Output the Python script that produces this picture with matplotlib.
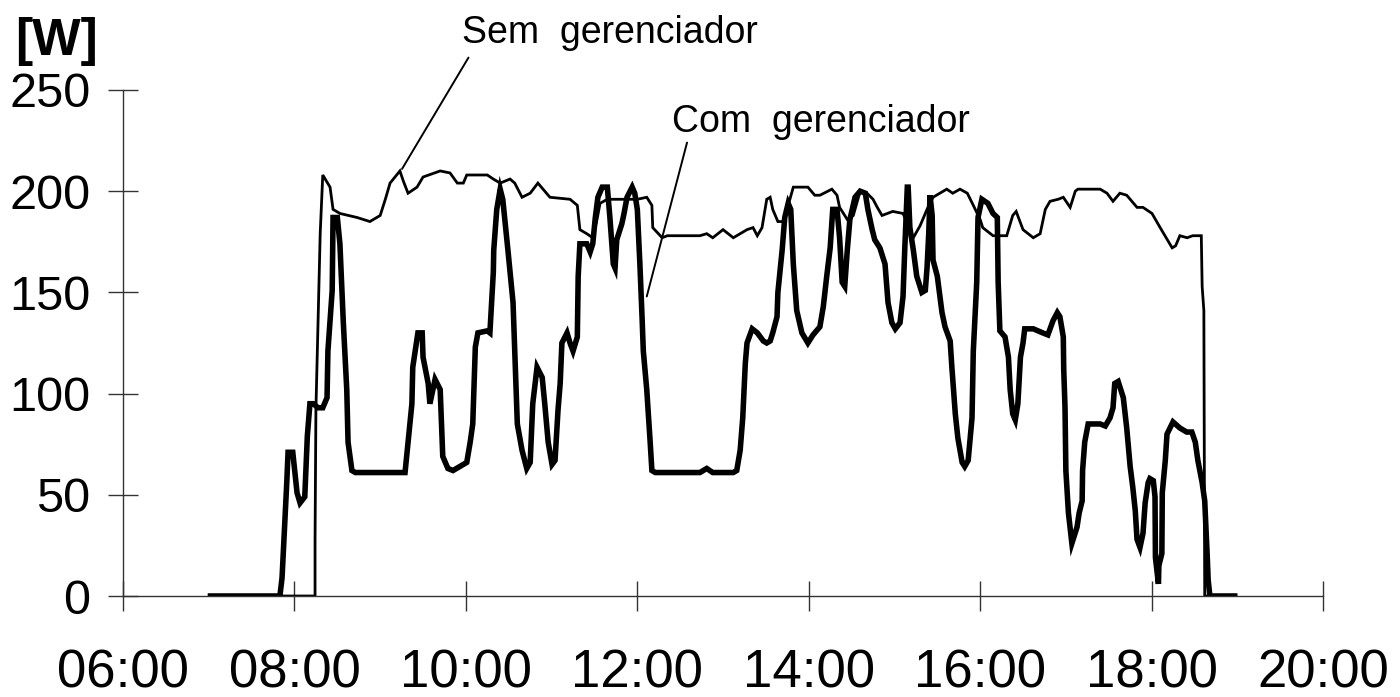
import matplotlib
matplotlib.use("Agg")
import matplotlib.pyplot as plt

plt.rcParams['font.family'] = ['Liberation Sans', 'DejaVu Sans']

# hora do dia (h decimal) e potência [W]
t_sem = [7.02, 8.24, 8.24, 8.25, 8.30, 8.33, 8.415, 8.45, 8.53, 8.73, 8.88, 9.00,
         9.06, 9.115, 9.23, 9.27, 9.325, 9.43, 9.50, 9.70, 9.815, 9.90, 9.97, 10.01,
         10.25, 10.32, 10.40, 10.515, 10.57, 10.655, 10.75, 10.84, 10.98, 11.215,
         11.30, 11.33, 11.41, 11.48, 11.53, 11.565, 11.65, 12.00, 12.11, 12.17,
         12.18, 12.29, 12.35, 12.73, 12.81, 12.88, 13.00, 13.12, 13.28, 13.35,
         13.40, 13.455, 13.51, 13.55, 13.58, 13.64, 13.70, 13.78, 13.82, 13.99,
         14.07, 14.13, 14.27, 14.33, 14.36, 14.45, 14.52, 14.60, 14.68, 14.75,
         14.80, 14.855, 14.98, 15.10, 15.22, 15.30, 15.38, 15.45, 15.61, 15.68,
         15.765, 15.85, 15.92, 16.00, 16.03, 16.15, 16.31, 16.38, 16.42, 16.50,
         16.62, 16.70, 16.76, 16.815, 16.91, 16.97, 17.05, 17.11, 17.14, 17.40,
         17.48, 17.55, 17.63, 17.71, 17.83, 17.90, 18.005, 18.10, 18.24, 18.28,
         18.33, 18.415, 18.48, 18.58, 18.59, 18.61, 18.62, 18.97]
p_sem = [0, 0, 28, 92, 179, 208, 202, 191, 189, 187, 185, 188,
         196, 204, 210, 205, 199, 202, 207, 210, 209, 204, 204, 208,
         208, 206, 204, 206, 204, 197, 199, 204, 197, 196,
         193, 181, 179, 177, 186, 194, 196, 196, 197, 193,
         182, 177, 178, 178, 179, 177, 181, 177, 181, 182,
         178, 182, 196, 197, 191, 185, 185, 196, 202, 202,
         198, 198, 201, 198, 192, 186, 188, 200, 199, 196,
         192, 188, 190, 189, 177, 183, 191, 197, 201, 199,
         201, 199, 193, 186, 182, 178, 178, 188, 190, 181,
         177, 179, 191, 195, 196, 197, 192, 200, 201, 201,
         199, 195, 199, 198, 192, 192, 189, 182, 172, 173,
         178, 177, 178, 178, 153, 141, 0, 0]

t_com = [7.02, 7.83, 7.855, 7.91, 7.925, 7.98, 8.03, 8.065, 8.12, 8.15, 8.18, 8.22,
         8.275, 8.33, 8.38, 8.39, 8.44, 8.45, 8.50, 8.53, 8.57, 8.61, 8.625, 8.67,
         8.71, 9.29, 9.325, 9.37, 9.38, 9.44, 9.49, 9.50, 9.56, 9.58, 9.64, 9.70,
         9.73, 9.79, 9.85, 10.01, 10.05, 10.08, 10.11, 10.14, 10.25, 10.28, 10.32,
         10.325, 10.36, 10.40, 10.43, 10.49, 10.55, 10.60, 10.655, 10.71, 10.75,
         10.78, 10.83, 10.89, 10.92, 10.96, 11.005, 11.04, 11.075, 11.10, 11.12,
         11.18, 11.215, 11.25, 11.30, 11.31, 11.33, 11.41, 11.45, 11.48, 11.51,
         11.54, 11.59, 11.65, 11.68, 11.72, 11.74, 11.76, 11.82, 11.845, 11.88,
         11.94, 11.97, 12.00, 12.03, 12.055, 12.07, 12.11, 12.15, 12.17, 12.21,
         12.73, 12.81, 12.88, 13.12, 13.16, 13.20, 13.23, 13.26, 13.28, 13.34,
         13.40, 13.47, 13.51, 13.55, 13.58, 13.63, 13.64, 13.69, 13.72, 13.76,
         13.79, 13.82, 13.86, 13.92, 13.99, 14.05, 14.13, 14.17, 14.21, 14.25,
         14.28, 14.33, 14.36, 14.39, 14.42, 14.45, 14.48, 14.54, 14.60, 14.66,
         14.69, 14.74, 14.77, 14.83, 14.89, 14.925, 14.97, 15.01, 15.065, 15.10,
         15.12, 15.15, 15.16, 15.18, 15.22, 15.26, 15.32, 15.36, 15.38, 15.40,
         15.415, 15.44, 15.45, 15.50, 15.555, 15.59, 15.65, 15.67, 15.71, 15.74,
         15.79, 15.82, 15.86, 15.905, 15.92, 15.96, 15.975, 16.02, 16.09, 16.15,
         16.20, 16.21, 16.23, 16.29, 16.33, 16.35, 16.38, 16.41, 16.44, 16.47,
         16.50, 16.52, 16.62, 16.73, 16.79, 16.85, 16.90, 16.93, 16.97, 16.975,
         16.99, 17.00, 17.03, 17.07, 17.13, 17.155, 17.19, 17.195, 17.22, 17.26,
         17.40, 17.46, 17.515, 17.55, 17.57, 17.61, 17.67, 17.71, 17.75, 17.78,
         17.81, 17.83, 17.865, 17.90, 17.925, 17.96, 17.98, 18.02, 18.04, 18.045,
         18.08, 18.085, 18.12, 18.125, 18.16, 18.18, 18.25, 18.33, 18.41, 18.47,
         18.51, 18.54, 18.59, 18.62, 18.65, 18.66, 18.68, 18.97]
p_com = [0, 0, 9, 56, 71, 71, 51, 46, 49, 79, 95, 95,
         93, 93, 98, 121, 151, 187, 187, 174, 135, 102, 76, 62,
         61, 61, 76, 95, 113, 130, 130, 118, 105, 95, 107, 102,
         69, 63, 62, 66, 76, 85, 123, 130, 131, 130, 160,
         171, 191, 201, 196, 171, 145, 85, 72, 63, 66,
         95, 113, 108, 95, 76, 65, 67, 92, 105, 125,
         130, 125, 121, 128, 158, 174, 174, 170, 174, 187,
         197, 202, 202, 187, 164, 162, 176, 184, 189, 197,
         202, 199, 191, 164, 138, 121, 102, 76, 62, 61,
         61, 63, 61, 61, 62, 72, 88, 115, 125, 132,
         130, 126, 125, 126, 130, 138, 150, 171, 187, 194,
         191, 164, 141, 130, 125, 129, 133, 143, 158, 172,
         191, 191, 177, 155, 153, 171, 186, 197, 200, 199,
         191, 181, 176, 172, 164, 145, 135, 132, 135, 148,
         171, 202, 202, 182, 171, 158, 150, 151, 162, 179,
         198, 188, 166, 158, 140, 133, 126, 113, 90, 78,
         66, 64, 67, 88, 121, 155, 187, 196, 194, 189,
         187, 155, 131, 128, 118, 102, 90, 87, 95, 118,
         125, 132, 132, 130, 129, 136, 140, 138, 128, 112,
         93, 62, 41, 26, 34, 41, 47, 62, 76, 85,
         85, 84, 88, 93, 105, 106, 98, 83, 64, 54,
         42, 28, 24, 31, 46, 56, 58, 57, 49, 19,
         6, 15, 21, 51, 67, 80, 86, 83, 81, 81,
         76, 67, 56, 47, 19, 8, 0, 0]

x_ticks = [6, 8, 10, 12, 14, 16, 18, 20]
x_labels = ['06:00', '08:00', '10:00', '12:00', '14:00', '16:00', '18:00', '20:00']
y_ticks = [0, 50, 100, 150, 200, 250]

fig = plt.figure(figsize=(14, 6.97), dpi=100)
ax = fig.add_axes([0.0879, 0.1449, 0.8571, 0.7260])

ax.plot(t_sem, p_sem, color='black', linewidth=2.0, solid_joinstyle='miter')
ax.plot(t_com, p_com, color='black', linewidth=4.0, solid_joinstyle='miter')

ax.set_xlim(6, 20)
ax.set_ylim(0, 250)
ax.set_xticks(x_ticks)
ax.set_xticklabels(x_labels)
ax.set_yticks(y_ticks)

for s in ['top', 'right']:
    ax.spines[s].set_visible(False)
for s in ['left', 'bottom']:
    ax.spines[s].set_color('#333333')
    ax.spines[s].set_linewidth(1.0)

ax.tick_params(axis='both', direction='inout', length=21, width=1.0, color='#333333')
ax.tick_params(axis='x', labelsize=38, pad=27)
ax.tick_params(axis='y', labelsize=35, pad=13)

fig.text(0.011, 0.921, '[W]', fontsize=37, fontweight='bold', va='baseline', ha='left')

# rótulos das curvas
ax.text(11.68, 273, 'Sem  gerenciador', fontsize=27, ha='center', va='baseline', clip_on=False)
ax.annotate('', xy=(9.255, 211), xytext=(10.03, 266), annotation_clip=False,
            arrowprops=dict(arrowstyle='-', color='black', lw=1.4, shrinkA=0, shrinkB=0))
ax.text(14.14, 229, 'Com  gerenciador', fontsize=27, ha='center', va='baseline', clip_on=False)
ax.annotate('', xy=(12.11, 148), xytext=(12.58, 224), annotation_clip=False,
            arrowprops=dict(arrowstyle='-', color='black', lw=1.4, shrinkA=0, shrinkB=0))

fig.savefig('out.png', dpi=100)
